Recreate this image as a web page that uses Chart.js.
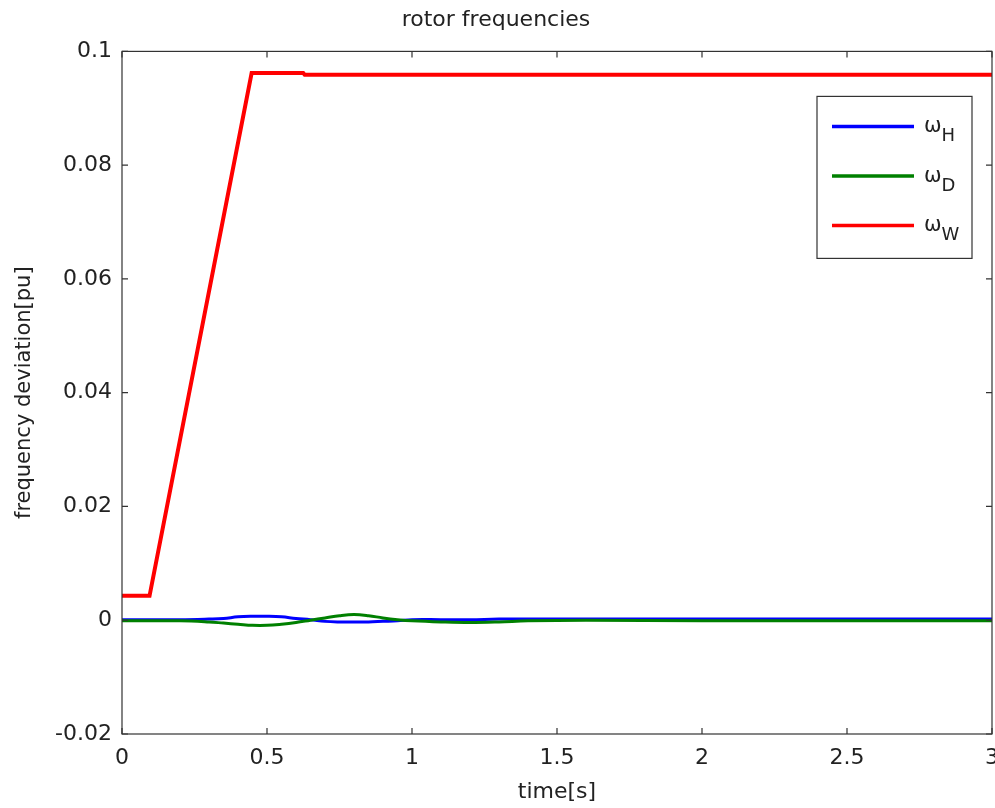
<!DOCTYPE html>
<html>
<head>
<meta charset="utf-8">
<script src="https://cdn.jsdelivr.net/npm/chart.js@4"></script>
<style>
  html, body { margin: 0; padding: 0; background: #fff; }
  #wrap { width: 995px; height: 808px; }
</style>
</head>
<body>
<div id="wrap"><canvas id="chart"></canvas></div>
<script>
// time axis for the two small oscillating frequencies
const oscTime = [0, 0.2, 0.3, 0.35, 0.4, 0.45, 0.5, 0.55, 0.6, 0.65, 0.7, 0.75, 0.8, 0.85, 0.9, 0.95, 1.0, 1.1, 1.2, 1.3, 1.4, 1.6, 2.0, 3.0]
const omegaH = [0.0001, 0.0001, 0.0002, 0.0003, 0.0006, 0.0007, 0.0007, 0.0006, 0.0003, 0.0001, -0.0002, -0.0003, -0.0003, -0.0003, -0.0002, -0.0001, 0.0001, 0.0001, 0.0001, 0.0002, 0.0002, 0.0002, 0.0002, 0.0002]
const omegaD = [-0.0001, -0.0001, -0.0003, -0.0005, -0.0007, -0.0009, -0.0009, -0.0007, -0.0004, 0, 0.0004, 0.0008, 0.001, 0.0008, 0.0004, 0.0001, -0.0001, -0.0003, -0.0004, -0.0003, -0.0001, 0, -0.0001, -0.0001]

// wind rotor frequency
const windTime = [0, 0.095, 0.447, 0.625, 0.63, 3.0]
const omegaW = [0.0043, 0.0043, 0.0962, 0.0962, 0.0959, 0.0959]

const xTicks = [0, 0.5, 1, 1.5, 2, 2.5, 3]
const yTicks = [-0.02, 0, 0.02, 0.04, 0.06, 0.08, 0.1]

const seriesNames = ["H", "D", "W"]
const seriesColors = ["#0000ff", "#008000", "#ff0000"]

const toPoints = (ts, vs) => ts.map((t, i) => ({ x: t, y: vs[i] }))

const FONT = "'DejaVu Sans', sans-serif"
Chart.defaults.font.family = FONT
Chart.defaults.color = "#222"

// black box around plot with inward tick marks (matlab style)
const boxPlugin = {
  id: "box",
  afterDraw(chart) {
    const { ctx, chartArea: a, scales } = chart
    ctx.save()
    ctx.strokeStyle = "#333"
    ctx.lineWidth = 1.2
    ctx.strokeRect(a.left, a.top, a.right - a.left, a.bottom - a.top)
    const len = 6
    ctx.beginPath()
    xTicks.forEach(v => {
      const px = scales.x.getPixelForValue(v)
      ctx.moveTo(px, a.bottom); ctx.lineTo(px, a.bottom - len)
      ctx.moveTo(px, a.top); ctx.lineTo(px, a.top + len)
    })
    yTicks.forEach(v => {
      const py = scales.y.getPixelForValue(v)
      ctx.moveTo(a.left, py); ctx.lineTo(a.left + len, py)
      ctx.moveTo(a.right, py); ctx.lineTo(a.right - len, py)
    })
    ctx.stroke()
    ctx.restore()
  }
}

// legend with subscripts
const legendPlugin = {
  id: "omegaLegend",
  afterDraw(chart) {
    const { ctx, chartArea: a } = chart
    const right = a.right - 20
    const left = right - 155
    const top = a.top + 45
    const bottom = top + 162
    ctx.save()
    ctx.fillStyle = "#fff"
    ctx.fillRect(left, top, right - left, bottom - top)
    ctx.strokeStyle = "#333"
    ctx.lineWidth = 1.2
    ctx.strokeRect(left, top, right - left, bottom - top)
    seriesNames.forEach((name, i) => {
      const y = top + 30 + i * 49.5
      ctx.strokeStyle = seriesColors[i]
      ctx.lineWidth = 3.5
      ctx.beginPath()
      ctx.moveTo(left + 15, y)
      ctx.lineTo(left + 97, y)
      ctx.stroke()
      ctx.fillStyle = "#222"
      ctx.textBaseline = "alphabetic"
      ctx.font = "21px " + FONT
      ctx.fillText("\u03c9", left + 107, y + 6)
      const w = ctx.measureText("\u03c9").width
      ctx.font = "18px " + FONT
      ctx.fillText(name, left + 107 + w, y + 15)
    })
    ctx.restore()
  }
}

new Chart(document.getElementById("chart"), {
  type: "line",
  data: {
    datasets: [
      {
        label: "\u03c9H",
        data: toPoints(oscTime, omegaH),
        borderColor: seriesColors[0],
        borderWidth: 3,
        tension: 0.4,
        order: 3
      },
      {
        label: "\u03c9D",
        data: toPoints(oscTime, omegaD),
        borderColor: seriesColors[1],
        borderWidth: 3,
        tension: 0.4,
        order: 2
      },
      {
        label: "\u03c9W",
        data: toPoints(windTime, omegaW),
        borderColor: seriesColors[2],
        borderWidth: 4,
        tension: 0,
        order: 1
      }
    ]
  },
  options: {
    responsive: true,
    maintainAspectRatio: false,
    animation: false,
    elements: { point: { radius: 0 } },
    layout: {
      autoPadding: false,
      padding: { left: 0, right: 3, top: 0, bottom: 0 }
    },
    plugins: {
      legend: { display: false },
      tooltip: { enabled: false },
      title: {
        display: true,
        text: "rotor frequencies",
        font: { size: 22, weight: "normal" },
        color: "#222",
        padding: { top: 7, bottom: 18 }
      }
    },
    scales: {
      x: {
        type: "linear",
        min: 0,
        max: 3,
        afterBuildTicks: s => { s.ticks = xTicks.map(v => ({ value: v })) },
        afterFit: s => { s.height = 74; s.paddingLeft = 0; s.paddingRight = 0 },
        grid: { display: false, drawTicks: false },
        border: { display: false },
        ticks: { font: { size: 22 }, padding: 11, maxRotation: 0, color: "#222", callback: v => String(v) },
        title: { display: true, text: "time[s]", font: { size: 22 }, padding: { top: 0, bottom: 3 }, color: "#222" }
      },
      y: {
        min: -0.02,
        max: 0.1,
        afterBuildTicks: s => { s.ticks = yTicks.map(v => ({ value: v })) },
        afterFit: s => { s.width = 122; s.paddingTop = 0; s.paddingBottom = 0 },
        grid: { display: false, drawTicks: false },
        border: { display: false },
        ticks: {
          font: { size: 22 },
          padding: 10,
          color: "#222",
          callback: v => String(parseFloat(v.toFixed(2)))
        },
        title: { display: true, text: "frequency deviation[pu]", font: { size: 21 }, padding: { top: 12, bottom: 0 }, color: "#222" }
      }
    }
  },
  plugins: [boxPlugin, legendPlugin]
})
</script>
</body>
</html>
